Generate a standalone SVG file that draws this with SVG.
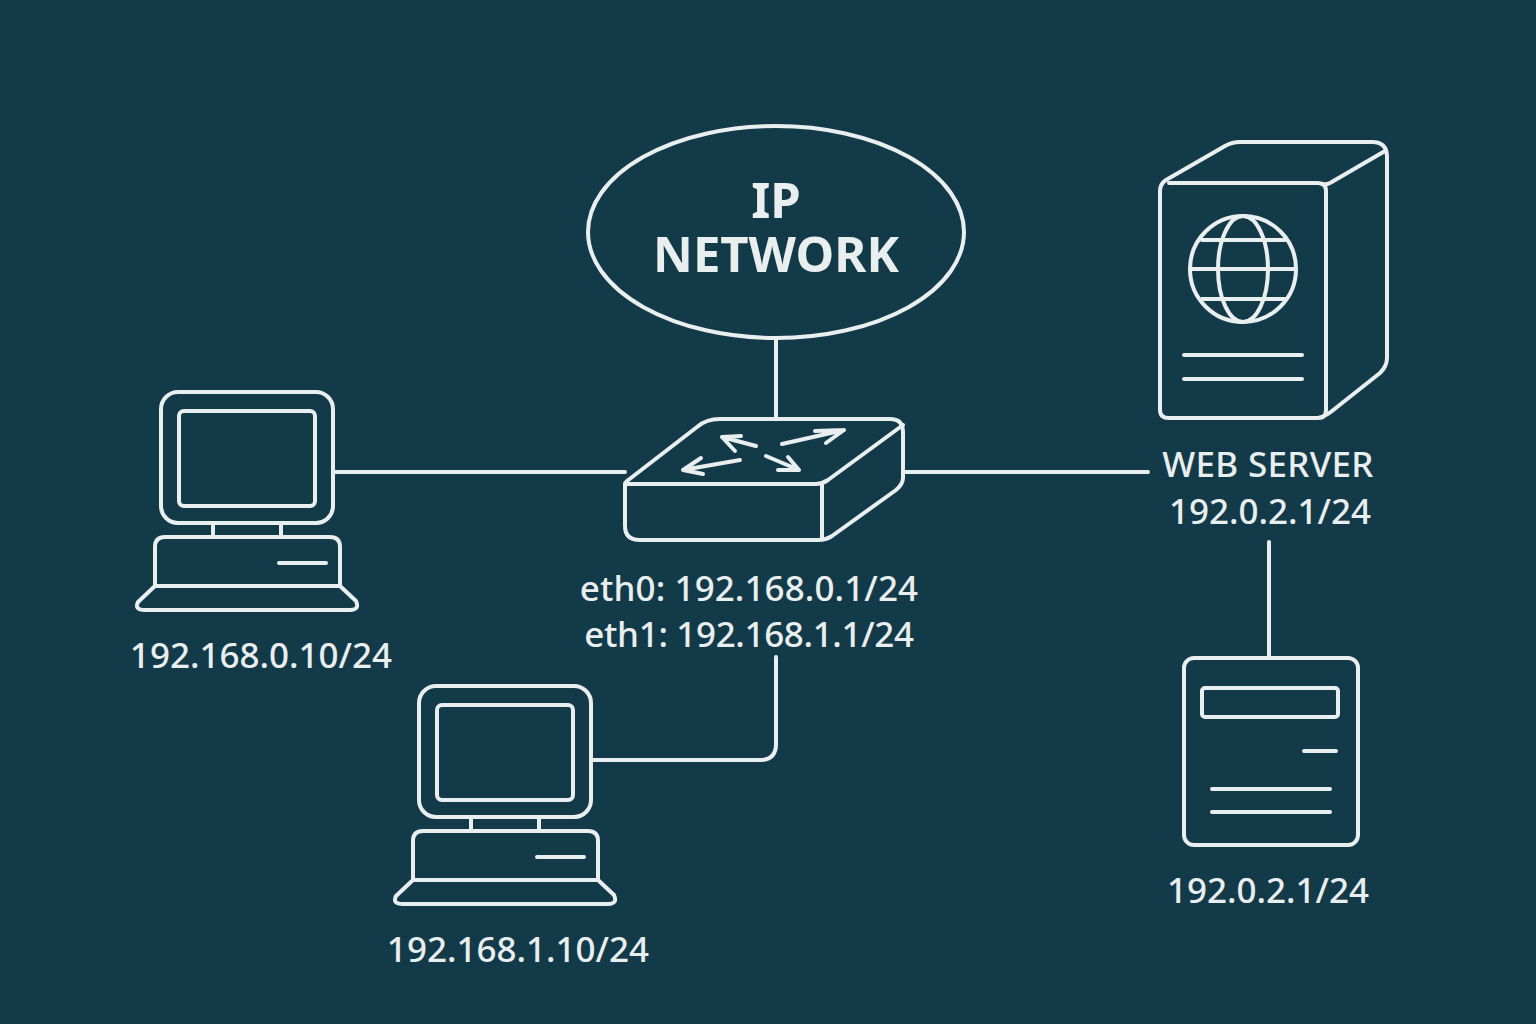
<svg xmlns="http://www.w3.org/2000/svg" width="1536" height="1024" viewBox="0 0 1536 1024">
<style>
.l{fill:none;stroke:#e9eeee;stroke-width:4;stroke-linecap:round;stroke-linejoin:round}
.t{fill:#e9eeee;font-family:"Noto Sans","Open Sans",sans-serif;font-size:35px;font-weight:500;text-anchor:middle}
.h{font-size:49px;font-weight:700}
</style>
<defs>
<g id="pc" class="l">
<rect x="161" y="392" width="172" height="131" rx="17"/>
<rect x="179" y="411" width="136" height="95" rx="5"/>
<path d="M213 523V537M281 523V537"/>
<path d="M155 586V547Q155 537 165 537H330Q340 537 340 547V586"/>
<path d="M155 586H340L356 601Q360 610 350 610H145Q134 610 138 602Z"/>
<path d="M279 563H326"/>
</g>
</defs>
<rect width="1536" height="1024" fill="#133a49"/>
<g id="connectors" class="l">
<path d="M776 338V418"/>
<path d="M333 472H625"/>
<path d="M903 472H1148"/>
<path d="M1269 542V658"/>
<path d="M776 657V744Q776 760 760 760H591"/>
</g>
<g id="cloud"><ellipse class="l" cx="776" cy="232" rx="188" ry="106"/>
<text class="t h"><tspan x="776" y="218">IP</tspan><tspan x="776" y="272">NETWORK</tspan></text></g>
<g id="switch">
<g class="l">
<path d="M625 484Q625 483 627 481L697 427Q706 419 720 419H890Q903 419 903 432V478Q903 484 896 490L832 536Q826 540 818 540H640Q625 540 625 526Z"/>
<path d="M625 484H816Q822 484 828 480L903 425"/>
<path d="M822 484V538"/>
<path d="M756 446L722 437M722 437L735 451M722 437L741 436"/>
<path d="M782 444L844 430M844 430L826 443M844 430L815 431"/>
<path d="M740 460L683 470M683 470L701 458M683 470L703 474"/>
<path d="M766 456L799 470M799 470L788 457M799 470L778 470"/>
</g>
<text class="t" x="749" y="601" style="letter-spacing:.1px">eth0: 192.168.0.1/24</text>
<text class="t" x="749" y="647" style="letter-spacing:-.35px">eth1: 192.168.1.1/24</text>
</g>
<g id="pc1"><use href="#pc"/><text class="t" x="261" y="668">192.168.0.10/24</text></g>
<g id="pc2"><use href="#pc" transform="translate(258 294)"/><text class="t" x="518" y="962">192.168.1.10/24</text></g>
<g id="server">
<g class="l">
<path d="M1169 183H1318Q1326 183 1326 191V410Q1326 418 1318 418H1169Q1160 418 1160 410V191Q1160 184 1166 180L1225 146Q1232 142 1240 142H1372Q1387 142 1387 157V358Q1387 366 1380 373L1332 411Q1326 416 1318 418"/>
<path d="M1322 184Q1326 185 1330 183L1385 151"/>
<circle cx="1243" cy="269" r="53"/>
<ellipse cx="1243" cy="269" rx="25" ry="53"/>
<path d="M1190 269H1296M1202 240H1285M1202 299H1285"/>
<path d="M1184 355H1302M1184 379H1302"/>
</g>
<text class="t" x="1268" y="477" style="letter-spacing:.3px">WEB SERVER</text>
<text class="t" x="1270" y="524">192.0.2.1/24</text>
</g>
<g id="device">
<g class="l">
<rect x="1184" y="658" width="174" height="187" rx="10"/>
<rect x="1202" y="688" width="136" height="29" rx="3"/>
<path d="M1304 751H1336M1212 789H1330M1212 812H1330"/>
</g>
<text class="t" x="1268" y="903">192.0.2.1/24</text>
</g>
</svg>
